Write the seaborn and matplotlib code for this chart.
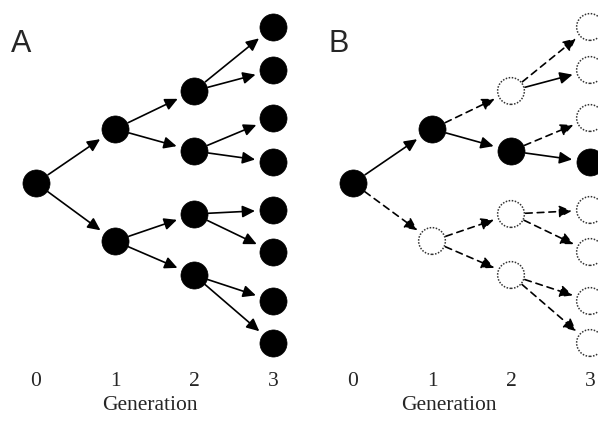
#  Import Libraries
import numpy as np
import pandas as pd
import matplotlib
matplotlib.use("Agg")
import matplotlib.pyplot as plt
import seaborn as sns

sns.set_style("white")

# ==========================
#  Tree data
# ==========================
# one row per node: generation, vertical position, parent
generation = [0, 1, 1, 2, 2, 2, 2, 3, 3, 3, 3, 3, 3, 3, 3]
node_pos = [183, 129, 241, 91, 151, 214, 275, 27, 70, 118, 162, 210, 252, 301, 343]
parent = [-1, 0, 0, 1, 1, 2, 2, 3, 3, 4, 4, 5, 5, 6, 6]

# panel B: which nodes still carry the lineage, which branches are solid
alive_b = [1, 1, 0, 0, 1, 0, 0, 0, 0, 0, 1, 0, 0, 0, 0]
solid_b = [0, 1, 0, 0, 1, 0, 0, 0, 1, 0, 1, 0, 0, 0, 0]

gen_labels = ["0", "1", "2", "3"]
panel_names = ["A", "B"]

nodes = pd.DataFrame({"generation": generation, "pos": node_pos, "parent": parent})
panels = {
    "A": (np.ones(len(nodes), int), np.ones(len(nodes), int)),
    "B": (np.array(alive_b), np.array(solid_b)),
}

fig = plt.figure(figsize=(5.98, 4.21), dpi=100)
bottom = 56 / 421
height = 365 / 421
xlims = {"A": (-36 / 79, 263 / 79), "B": (-54 / 79, 245 / 79)}
letter_x = {"A": 0.035, "B": 0.1}


def draw_tree(ax, alive, solid):
    """Arrows first, then the nodes on top."""
    for i, row in nodes.iterrows():
        if row["parent"] < 0:
            continue
        p = nodes.loc[row["parent"]]
        ls = "-" if solid[i] else (0, (4, 3))
        ax.annotate("", xy=(row["generation"], row["pos"]),
                    xytext=(p["generation"], p["pos"]),
                    arrowprops=dict(arrowstyle="-|>,head_length=0.42,head_width=0.2",
                                    mutation_scale=18, color="black", lw=1.2,
                                    linestyle=ls, shrinkA=10.5, shrinkB=13),
                    zorder=1)
    d = nodes.assign(alive=alive)
    sns.scatterplot(data=d[d["alive"] == 1], x="generation", y="pos", ax=ax,
                    s=380, color="black", edgecolor="black", linewidth=0.5,
                    zorder=3, legend=False)
    sns.scatterplot(data=d[d["alive"] == 0], x="generation", y="pos", ax=ax,
                    s=370, facecolor="white", edgecolor="#333333", linewidth=1.1,
                    linestyle=(0, (1, 1)), zorder=3, legend=False)


for k, name in enumerate(panel_names):
    ax = fig.add_axes([0.5 * k, bottom, 0.5, height])
    alive, solid = panels[name]
    draw_tree(ax, alive, solid)
    ax.set_xlim(*xlims[name])
    ax.set_ylim(365, 0)
    sns.despine(ax=ax, left=True, bottom=True)
    ax.set_yticks([])
    ax.set_xticks(range(len(gen_labels)))
    ax.set_xticklabels(gen_labels, fontfamily="Liberation Serif", fontsize=15.5)
    ax.tick_params(axis="x", length=0, pad=5)
    ax.set_xlabel("Generation", fontfamily="Liberation Serif", fontsize=15.5,
                  labelpad=4)
    ax.set_ylabel("")
    ax.text(letter_x[name], 1 - 52 / 365, name, transform=ax.transAxes,
            fontfamily="Liberation Sans", fontsize=22, va="baseline", ha="left")

fig.savefig("out.png", dpi=100)
